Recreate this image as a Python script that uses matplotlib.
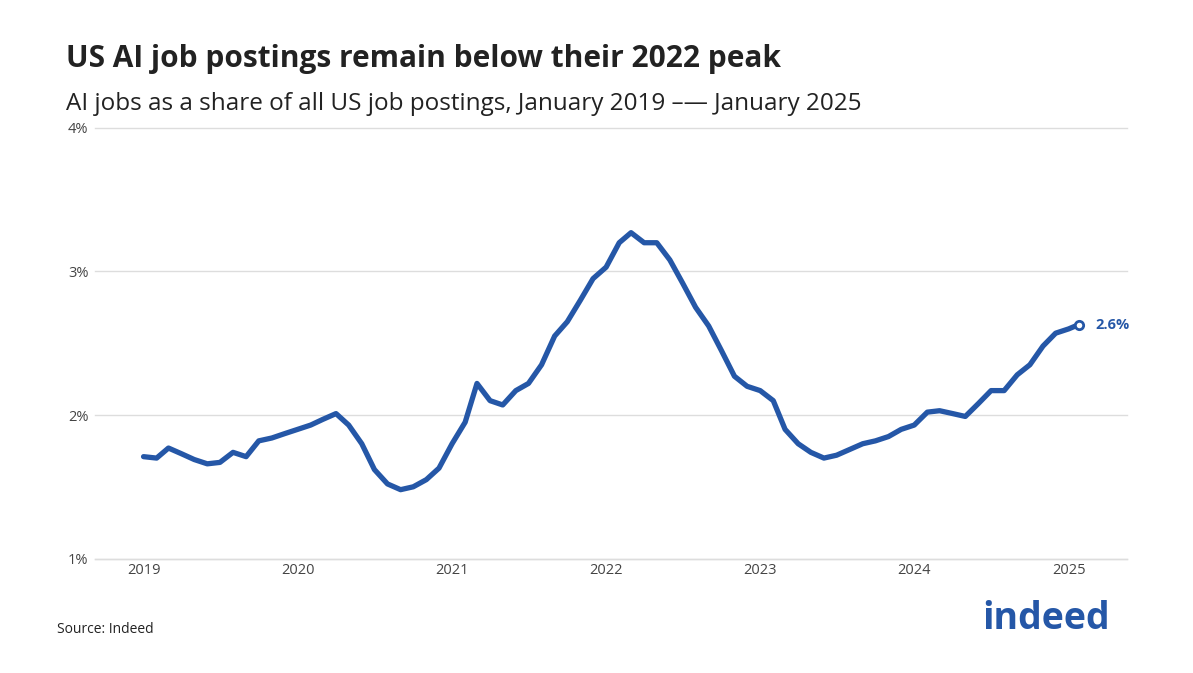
import matplotlib.pyplot as plt
import pandas as pd

plt.rcParams["font.family"] = ["Open Sans", "DejaVu Sans"]

dates = pd.date_range("2019-01-01", "2025-01-01", freq="MS").tolist() + [pd.Timestamp("2025-01-25")]
share = [
    1.71, 1.70, 1.77, 1.73, 1.69, 1.66, 1.67, 1.74, 1.71, 1.82, 1.84, 1.87,
    1.90, 1.93, 1.97, 2.01, 1.93, 1.80, 1.62, 1.52, 1.48, 1.50, 1.55, 1.63,
    1.80, 1.95, 2.22, 2.10, 2.07, 2.17, 2.22, 2.35, 2.55, 2.65, 2.80, 2.95,
    3.03, 3.20, 3.27, 3.20, 3.20, 3.08, 2.92, 2.75, 2.62, 2.45, 2.27, 2.20,
    2.17, 2.10, 1.90, 1.80, 1.74, 1.70, 1.72, 1.76, 1.80, 1.82, 1.85, 1.90,
    1.93, 2.02, 2.03, 2.01, 1.99, 2.08, 2.17, 2.17, 2.28, 2.35, 2.48, 2.57,
    2.60, 2.63,
]
years = [2019, 2020, 2021, 2022, 2023, 2024, 2025]
blue = "#2557a7"

fig = plt.figure(figsize=(11.93, 6.73), dpi=100)
ax = fig.add_axes([0.08, 0.17, 0.865, 0.64])
ax.plot(dates, share, color=blue, lw=3.8, solid_capstyle="round", solid_joinstyle="round")
ax.plot(dates[-1], share[-1], "o", ms=6, mfc="white", mec=blue, mew=2)
ax.text(dates[-1] + pd.Timedelta(days=40), share[-1], "2.6%", color=blue,
        fontsize=10.5, fontweight="bold", va="center")

ax.set_ylim(1, 4)
ax.set_yticks([1, 2, 3, 4])
ax.set_yticklabels(["1%", "2%", "3%", "4%"])
ax.set_xlim(pd.Timestamp("2018-09-09"), pd.Timestamp("2025-05-20"))
ax.set_xticks([pd.Timestamp(f"{y}-01-01") for y in years])
ax.set_xticklabels([str(y) for y in years])
ax.grid(axis="y", color="#dddddd", lw=1, clip_on=False)
ax.tick_params(length=0, labelsize=10.5, colors="#444444")
ax.tick_params(axis="y", pad=5)
for s in ax.spines.values():
    s.set_visible(False)
ax.axhline(1, color="#dddddd", lw=1, clip_on=False)

fig.text(0.055, 0.9, "US AI job postings remain below their 2022 peak",
         fontsize=21.5, fontweight="bold", color="#222222")
fig.text(0.055, 0.837, "AI jobs as a share of all US job postings, January 2019 \u2013\u2014 January 2025",
         fontsize=17.5, color="#222222")
fig.text(0.048, 0.06, "Source: Indeed", fontsize=10, color="#222222")
fig.text(0.93, 0.065, "indeed", fontsize=27, fontweight="bold", color=blue, ha="right")

fig.savefig("out.png", dpi=100, facecolor="white")
